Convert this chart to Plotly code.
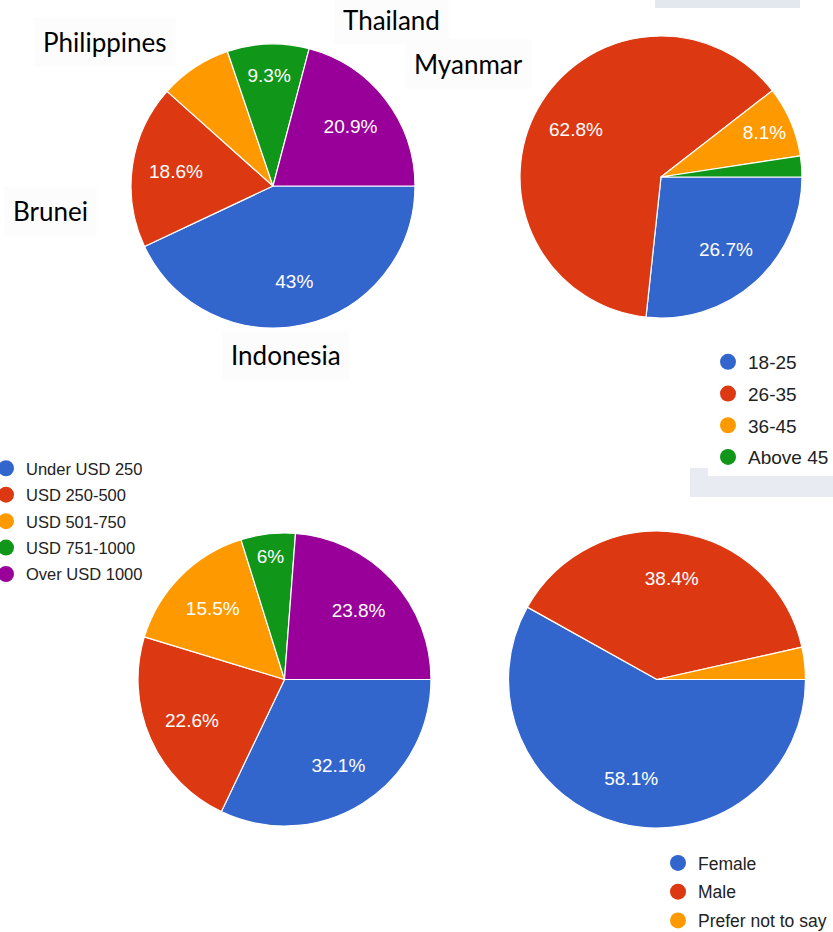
import plotly.graph_objects as go

# ---- data ----
country_labels = ["Indonesia", "Brunei", "Philippines", "Thailand", "Myanmar"]
country_values = [43.0, 18.6, 8.2, 9.3, 20.9]
country_show = [True, True, False, True, True]

age_labels = ["18-25", "26-35", "36-45", "Above 45"]
age_values = [26.7, 62.8, 8.1, 2.4]
age_show = [True, True, True, False]

income_labels = ["Under USD 250", "USD 250-500", "USD 501-750", "USD 751-1000", "Over USD 1000"]
income_values = [32.1, 22.6, 15.5, 6.0, 23.8]
income_show = [True, True, True, True, True]

gender_labels = ["Female", "Male", "Prefer not to say"]
gender_values = [58.1, 38.4, 3.5]
gender_show = [True, True, False]

colors = ["#3366cc", "#dc3912", "#ff9900", "#109618", "#990099"]

W, H = 833, 932


def fmt(vals, show):
    return [(f"{v:g}%" if s else "") for v, s in zip(vals, show)]


def dom(cx, cy, r):
    return dict(x=[(cx - r) / W, (cx + r) / W], y=[1 - (cy + r) / H, 1 - (cy - r) / H])


fig = go.Figure()

pies = [
    (country_labels, country_values, country_show, dom(273, 186, 142)),
    (age_labels, age_values, age_show, dom(661, 177, 141)),
    (income_labels, income_values, income_show, dom(284.5, 679.5, 146.5)),
    (gender_labels, gender_values, gender_show, dom(657, 679.5, 148.5)),
]
for i, (lab, val, show, d) in enumerate(pies):
    # coloured slices
    fig.add_trace(go.Pie(
        labels=lab, values=val, sort=False,
        direction="clockwise", rotation=90, domain=d,
        marker=dict(colors=colors[:len(val)], line=dict(color="white", width=1.2)),
        textinfo="none", showlegend=False, hoverinfo="label+percent",
        name=f"pie{i}",
    ))
    # transparent ring carrying the percentage labels (places them further out)
    fig.add_trace(go.Pie(
        labels=lab, values=val, sort=False, hole=0.38,
        direction="clockwise", rotation=90, domain=d,
        marker=dict(colors=["rgba(0,0,0,0)"] * len(val), line=dict(width=0)),
        text=fmt(val, show), textinfo="text", textposition="inside",
        insidetextorientation="horizontal",
        insidetextfont=dict(color="white", size=19, family="Liberation Sans, Arial"),
        showlegend=False, hoverinfo="skip",
        name=f"pielabels{i}",
    ))

# legend entries (circle markers)
legend_sets = [
    (age_labels, "legend"),
    (income_labels, "legend2"),
    (gender_labels, "legend3"),
]
for lab, lg in legend_sets:
    for j, l in enumerate(lab):
        fig.add_trace(go.Scatter(
            x=[None], y=[None], mode="markers", name=l,
            marker=dict(color=colors[j], size=16, symbol="circle"),
            legend=lg, legendgroup=f"{lg}_{j}", showlegend=True,
        ))

# country name annotations for the first pie
country_pos = {
    "Thailand": (391, 20),
    "Philippines": (105, 42),
    "Myanmar": (468, 64),
    "Brunei": (50, 211),
    "Indonesia": (286, 355),
}
annotations = []
for name in country_labels:
    px, py = country_pos[name]
    annotations.append(dict(
        x=px / W, y=1 - py / H, xref="paper", yref="paper", text=name,
        showarrow=False, xanchor="center", yanchor="middle",
        bgcolor="#fcfcfc", borderpad=8,
        font=dict(family="Lato, Carlito, Calibri, sans-serif", size=26, color="black"),
    ))

shapes = [
    dict(type="rect", xref="paper", yref="paper", x0=655 / W, x1=800 / W,
         y0=1 - 8 / H, y1=1, fillcolor="#e3e8ef", line=dict(width=0), layer="below"),
    dict(type="rect", xref="paper", yref="paper", x0=690 / W, x1=1,
         y0=1 - 497 / H, y1=1 - 468 / H, fillcolor="#e8ebf1", line=dict(width=0), layer="below"),
]

fig.update_layout(
    width=W, height=H, autosize=False,
    margin=dict(l=0, r=0, t=0, b=0, autoexpand=False),
    paper_bgcolor="white", plot_bgcolor="white",
    xaxis=dict(visible=False), yaxis=dict(visible=False),
    annotations=annotations, shapes=shapes,
    legend=dict(x=708 / W, y=1 - 343 / H, xanchor="left", yanchor="top",
                font=dict(family="Liberation Sans, Arial", size=19, color="#222222"),
                tracegroupgap=4, bgcolor="white", itemwidth=30),
    legend2=dict(x=-14 / W, y=1 - 451 / H, xanchor="left", yanchor="top",
                 font=dict(family="Liberation Sans, Arial", size=16.5, color="#222222"),
                 tracegroupgap=2, bgcolor="rgba(0,0,0,0)", itemwidth=30),
    legend3=dict(x=658 / W, y=1 - 845 / H, xanchor="left", yanchor="top",
                 font=dict(family="Liberation Sans, Arial", size=17.5, color="#222222"),
                 tracegroupgap=3, bgcolor="rgba(0,0,0,0)", itemwidth=30),
)

fig.write_html("out.html")
